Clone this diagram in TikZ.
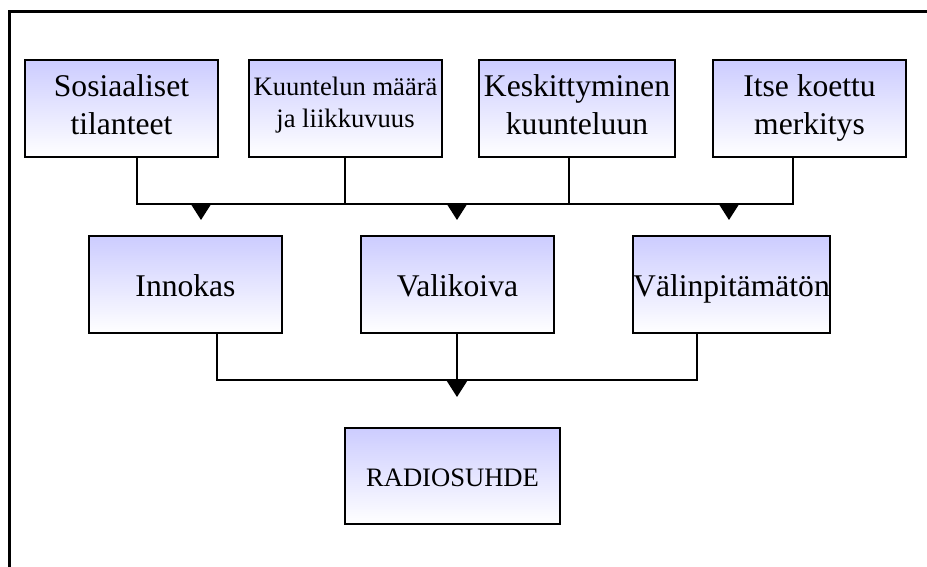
\documentclass[tikz,border=0pt]{standalone}
\usepackage{fontspec}
\setmainfont{Liberation Serif}
\usetikzlibrary{arrows.meta}

\tikzset{
  box/.style={draw=black, line width=1.5pt, top color=blue!20, bottom color=white,
    minimum height=97pt, inner sep=0pt, align=center,
    font=\fontsize{31.6}{38}\selectfont,
    execute at begin node=\rule{0pt}{32pt},
    execute at end node=\rule[-8pt]{0pt}{8pt}},
  smallbox/.style={box, font=\fontsize{26.6}{32}\selectfont,
    execute at begin node=\rule{0pt}{26pt},
    execute at end node=\rule[-12pt]{0pt}{12pt}},
  link/.style={line width=1.5pt},
  tip/.style={link, -{Triangle[width=20pt,length=16pt]}}
}

\begin{document}
\begin{tikzpicture}[x=1pt,y=-1pt]
  \useasboundingbox (0,0) rectangle (927,567);

  % Frame, only the left and the top edge show
  \draw[line width=3pt] (9,567) -- (9,12) -- (927,12);

  % Top row
  \node[box, minimum width=193pt] (soc) at (121.5,108.5) {Sosiaaliset\\tilanteet};
  \node[smallbox, minimum width=193pt] (amt) at (345.5,108.5) {Kuuntelun määrä\\ja liikkuvuus};
  \node[box, minimum width=196pt] (conc) at (577,108.5) {Keskittyminen\\kuunteluun};
  \node[box, minimum width=193pt] (own) at (809.5,108.5) {Itse koettu\\merkitys};

  % Middle row
  \node[box, minimum width=193pt] (inn) at (185.5,284.5) {Innokas};
  \node[box, minimum width=193pt] (val) at (457.5,284.5) {Valikoiva};
  \node[box, minimum width=197pt] (ind) at (731.5,284.5) {Välinpitämätön};

  % Bottom
  \node[smallbox, minimum width=215pt, minimum height=96pt] (rad) at (452.5,476) {RADIOSUHDE};

  % Upper bus
  \coordinate (b1) at (137,204);
  \coordinate (b2) at (345,204);
  \coordinate (b3) at (569,204);
  \coordinate (b4) at (793,204);
  \draw[link] (soc.south -| b1) -- (b1) -- (b4) -- (b4 |- own.south);
  \draw[link] (amt.south -| b2) -- (b2);
  \draw[link] (conc.south -| b3) -- (b3);

  % Arrow heads on the upper bus
  \coordinate (t1) at (201,220);
  \coordinate (t2) at (457,220);
  \coordinate (t3) at (729,220);
  \foreach \t in {t1,t2,t3}
    \draw[tip] (\t |- b1) -- (\t);

  % Lower bus
  \coordinate (l1) at (217,380);
  \coordinate (l3) at (697,380);
  \coordinate (t4) at (457,397);
  \draw[link] (inn.south -| l1) -- (l1) -- (l3) -- (ind.south -| l3);
  \draw[link] (val.south -| t4) -- (t4 |- l1);
  \draw[tip] (t4 |- l1) -- (t4);
\end{tikzpicture}
\end{document}
